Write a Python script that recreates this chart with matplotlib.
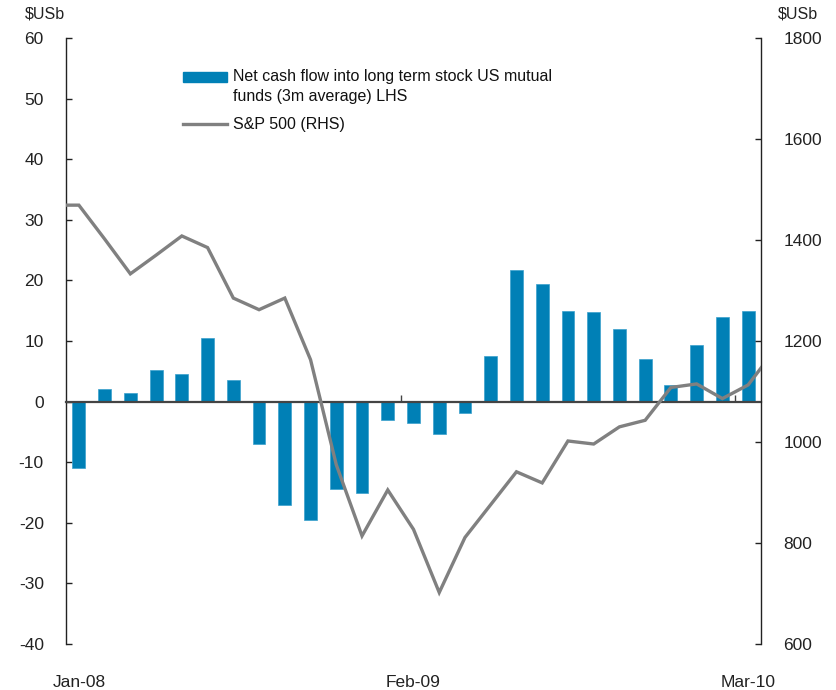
import matplotlib
matplotlib.use("Agg")
import matplotlib.pyplot as plt
from matplotlib.patches import Rectangle
from matplotlib.lines import Line2D
import numpy as np

plt.rcParams['font.family'] = ['Liberation Sans', 'DejaVu Sans']
plt.rcParams['axes.unicode_minus'] = False

# ---------------- data ----------------
months = ["Jan-08", "Feb-08", "Mar-08", "Apr-08", "May-08", "Jun-08", "Jul-08",
          "Aug-08", "Sep-08", "Oct-08", "Nov-08", "Dec-08", "Jan-09", "Feb-09",
          "Mar-09", "Apr-09", "May-09", "Jun-09", "Jul-09", "Aug-09", "Sep-09",
          "Oct-09", "Nov-09", "Dec-09", "Jan-10", "Feb-10", "Mar-10"]
net_flows = [-10.9, 2.1, 1.5, 5.2, 4.6, 10.5, 3.6, -7.0, -17.1, -19.5, -14.4, -15.0,
             -3.1, -3.6, -5.3, -1.9, 7.6, 21.7, 19.4, 15.0, 14.8, 12.0, 7.1, 2.7,
             9.3, 13.9, 15.0]
# S&P 500, Dec-07 through Apr-10 (the end points lie just beyond the plotted range)
sp500 = [1469, 1469, 1402, 1333, 1370, 1408, 1385, 1285, 1262, 1285, 1163, 955, 814,
         905, 827, 702, 811, 876, 941, 919, 1002, 996, 1030, 1043, 1108, 1115,
         1086, 1113, 1180]
tick_labels = ["Jan-08", "Feb-09", "Mar-10"]
label_months = [0, 13, 26]

bar_color = "#0080B6"
line_color = "#808080"

W, H = 836, 690
fig = plt.figure(figsize=(W / 100, H / 100), dpi=100)
L, R, T, B = 66, 761, 38, 644
ax = fig.add_axes([L / W, 1 - B / H, (R - L) / W, (B - T) / H])

x = np.arange(len(months))
ax.bar(x, net_flows, width=0.5, color=bar_color, edgecolor="#3aa0cc", linewidth=0.5, zorder=2)
ax.set_xlim(-0.5, len(months) - 0.5)
ax.set_ylim(-40, 60)
ax.set_yticks(np.arange(-40, 61, 10))

for s in ["top", "right"]:
    ax.spines[s].set_visible(False)
ax.spines["left"].set_color("#222222")
ax.spines["left"].set_linewidth(1.0)
ax.spines["bottom"].set_position(("data", 0))
ax.spines["bottom"].set_color("#444444")
ax.spines["bottom"].set_linewidth(1.6)
ax.spines["bottom"].set_zorder(3)
ax.set_xticks([label_months[1] - 0.5, label_months[2] - 0.5])
ax.set_xticklabels([])
ax.tick_params(axis="x", direction="in", length=5, width=1, color="#444444")
ax.tick_params(axis="y", direction="in", length=4, width=1, color="#222222",
               labelsize=12.5, pad=16, labelcolor="#222222")

sec = ax.secondary_xaxis(0.0)
sec.set_xticks(label_months)
sec.set_xticklabels(tick_labels)
sec.tick_params(length=0, pad=22, labelsize=12.5, labelcolor="#222222")
sec.spines["bottom"].set_visible(False)

ax2 = ax.twinx()
x_sp = np.arange(-1, len(sp500) - 1)
ax2.plot(x_sp, sp500, color=line_color, linewidth=2.4, solid_joinstyle="miter", zorder=4)
ax2.set_ylim(600, 1800)
ax2.set_xlim(-0.5, len(months) - 0.5)
ax2.set_yticks(np.arange(600, 1801, 200))
for s in ["top", "left", "bottom"]:
    ax2.spines[s].set_visible(False)
ax2.spines["right"].set_color("#222222")
ax2.spines["right"].set_linewidth(1.0)
ax2.tick_params(axis="y", direction="in", length=4, width=1, color="#222222",
                labelsize=12.5, pad=16, labelcolor="#222222")

# unit labels
fig.text(45 / W, 1 - 14 / H, "$USb", ha="center", va="center", fontsize=11.5, color="#222222")
fig.text(798 / W, 1 - 14 / H, "$USb", ha="center", va="center", fontsize=11.5, color="#222222")

# legend (manual, in figure pixels)
def fx(px):
    return px / W

def fy(py):
    return 1 - py / H

fig.patches.append(Rectangle((fx(183), fy(81.7)), fx(227) - fx(183), fy(71.7) - fy(81.7),
                             transform=fig.transFigure, color=bar_color))
fig.lines.append(Line2D([fx(183), fx(227)], [fy(124), fy(124)], transform=fig.transFigure,
                        color=line_color, linewidth=2.4))
fig.text(fx(233), fy(77), "Net cash flow into long term stock US mutual",
         ha="left", va="center", fontsize=11.5, color="#111111")
fig.text(fx(233), fy(96), "funds (3m average) LHS",
         ha="left", va="center", fontsize=11.5, color="#111111")
fig.text(fx(233), fy(124), "S&P 500 (RHS)",
         ha="left", va="center", fontsize=11.5, color="#111111")

fig.savefig("out.png", dpi=100)
